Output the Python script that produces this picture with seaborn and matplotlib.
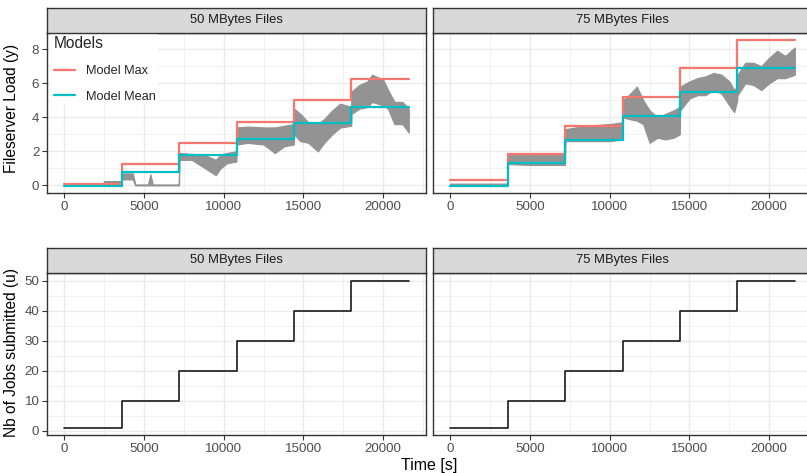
import matplotlib
matplotlib.use("Agg")
import matplotlib.pyplot as plt
import seaborn as sns
import pandas as pd

# ---- data ----
t_steps = [0, 3600, 7200, 10800, 14400, 18000, 21600]
max50 = [0.08, 1.23, 2.48, 3.73, 5.03, 6.26, 6.26]
mean50 = [-0.06, 0.80, 1.76, 2.73, 3.69, 4.62, 4.62]
max75 = [0.33, 1.83, 3.51, 5.19, 6.87, 8.53, 8.53]
mean75 = [-0.02, 1.29, 2.65, 4.10, 5.50, 6.91, 6.91]
jobs = [1, 10, 20, 30, 40, 50, 50]

# measured load, as lower / upper envelope of the noisy trace
load50_t = [0, 2400, 2500, 3590, 3610, 4300, 4450, 5250, 5400, 5550, 7190,
            7210, 8000, 8500, 9000, 9500, 9800, 10200, 10790,
            10810, 11500, 12500, 13200, 13800, 14390,
            14410, 14800, 15300, 15900, 16300, 16800, 17300, 17990,
            18010, 18500, 19000, 19300, 20000, 20300, 20700, 21200, 21600]
lo50 = [0, 0, 0.1, 0.1, 0.35, 0.35, 0, 0, 0, 0, 0,
        1.5, 1.5, 1.2, 0.9, 0.6, 1.0, 1.3, 1.4,
        2.4, 2.5, 2.4, 1.9, 2.3, 2.4,
        3.0, 2.6, 2.5, 2.0, 2.5, 3.0, 3.4, 3.5,
        4.2, 4.5, 4.6, 4.9, 4.7, 4.5, 3.6, 3.6, 3.1]
hi50 = [0.03, 0.03, 0.25, 0.25, 0.7, 0.7, 0.05, 0.05, 0.65, 0.05, 0.05,
        1.9, 1.85, 1.8, 1.7, 1.5, 1.8, 1.9, 2.0,
        3.4, 3.45, 3.4, 3.4, 3.5, 3.6,
        4.5, 4.2, 3.7, 3.6, 3.9, 4.4, 4.8, 4.6,
        5.5, 5.9, 6.1, 6.5, 6.2, 5.6, 4.9, 4.9, 4.5]

load75_t = [0, 3590, 3610, 5000, 7190,
            7210, 8500, 10000, 10790,
            10810, 11200, 11700, 12100, 12500, 13000, 13500, 14000, 14390,
            14410, 15000, 15500, 16000, 16500, 17000, 17500, 17800, 17990,
            18010, 18500, 19000, 19500, 20000, 20500, 21000, 21600]
lo75 = [0, 0, 1.25, 1.2, 1.2,
        2.6, 2.6, 2.6, 2.7,
        4.0, 3.9, 3.8, 3.6, 2.5, 2.8, 2.7, 2.8, 3.0,
        4.4, 5.1, 5.3, 5.3, 5.6, 5.4, 4.7, 4.3, 5.0,
        5.3, 6.0, 5.9, 5.6, 6.0, 6.3, 6.3, 6.5]
hi75 = [0.1, 0.1, 1.8, 1.8, 1.85,
        3.3, 3.5, 3.6, 3.7,
        5.0, 5.3, 5.8, 5.0, 4.4, 4.0, 4.2, 4.4, 4.6,
        5.8, 6.1, 6.3, 6.4, 6.6, 6.5, 6.1, 5.6, 5.8,
        6.5, 7.2, 7.2, 7.0, 7.5, 7.9, 7.6, 8.1]

facets = ["50 MBytes Files", "75 MBytes Files"]

# ---- style ----
sns.set_theme(style="white")
plt.rcParams["font.family"] = ["Liberation Sans", "DejaVu Sans"]

RED = "#F8766D"
CYAN = "#00BFC4"
GREY_BAND = "#939393"
GRID = "#EBEBEB"
BORDER = "#333333"

W, H = 807, 473
fig = plt.figure(figsize=(W / 100, H / 100), dpi=100)


def box(x0, y0, x1, y1):
    # pixel box (top-left origin) -> figure fraction
    return [x0 / W, (H - y1) / H, (x1 - x0) / W, (y1 - y0) / H]


def style_panel(ax, yticks, yminor, ylim, first_col):
    ax.set_xlim(-1080, 22680)
    ax.set_ylim(*ylim)
    ax.set_xticks([0, 5000, 10000, 15000, 20000])
    ax.set_xticks([2500, 7500, 12500, 17500, 22500], minor=True)
    ax.set_yticks(yticks)
    ax.set_yticks(yminor, minor=True)
    ax.grid(True, which="major", color=GRID, linewidth=1.0)
    ax.grid(True, which="minor", color=GRID, linewidth=0.5)
    ax.set_axisbelow(True)
    for s in ax.spines.values():
        s.set_color(BORDER)
        s.set_linewidth(1.0)
    ax.tick_params(which="major", direction="out", length=3.5, width=0.8,
                   color=BORDER, labelsize=9.6, labelcolor="#4D4D4D", pad=2,
                   bottom=True, left=first_col, labelleft=first_col)
    ax.tick_params(which="minor", length=0)
    ax.set_xlabel("")
    ax.set_ylabel("")


def strip(rect, label):
    sax = fig.add_axes(rect)
    sax.set_facecolor("#D9D9D9")
    sax.set_xticks([])
    sax.set_yticks([])
    for s in sax.spines.values():
        s.set_color(BORDER)
        s.set_linewidth(1.0)
    sax.text(0.5, 0.5, label, ha="center", va="center", fontsize=9.4,
             color="#1A1A1A", transform=sax.transAxes)


panels_x = [(47, 426), (433, 812)]

# ---- top row: fileserver load ----
loads = [(load50_t, lo50, hi50, max50, mean50),
         (load75_t, lo75, hi75, max75, mean75)]
top_axes = []
for i, (x0, x1) in enumerate(panels_x):
    ax = fig.add_axes(box(x0, 33, x1, 193))
    lt, lo, hi, mx, mn = loads[i]
    ax.fill_between(lt, lo, hi, color=GREY_BAND, edgecolor=GREY_BAND,
                    linewidth=0.9, zorder=2)
    df = pd.DataFrame({"t": t_steps, "max": mx, "mean": mn})
    sns.lineplot(data=df, x="t", y="max", ax=ax, color=RED, linewidth=1.6,
                 drawstyle="steps-post", label="Model Max", zorder=3)
    sns.lineplot(data=df, x="t", y="mean", ax=ax, color=CYAN, linewidth=1.6,
                 drawstyle="steps-post", label="Model Mean", zorder=4)
    style_panel(ax, [0, 2, 4, 6, 8], [1, 3, 5, 7], (-0.45, 8.95), i == 0)
    strip(box(x0, 8, x1, 33), facets[i])
    top_axes.append(ax)

leg = top_axes[0].legend(title="Models", loc="upper left",
                         bbox_to_anchor=(-0.006, 1.035), frameon=True,
                         facecolor="white", edgecolor="none", framealpha=1,
                         fontsize=9.2, title_fontsize=11.2, handlelength=1.7,
                         labelspacing=1.08, borderpad=0.2, handletextpad=0.8,
                         alignment="left", fancybox=False)
leg.get_frame().set_linewidth(0)
for lh in leg.get_lines():
    lh.set_linewidth(1.6)
top_axes[1].get_legend().remove()

# ---- bottom row: jobs submitted ----
for i, (x0, x1) in enumerate(panels_x):
    ax = fig.add_axes(box(x0, 273, x1, 435))
    dj = pd.DataFrame({"t": t_steps, "jobs": jobs})
    sns.lineplot(data=dj, x="t", y="jobs", ax=ax, color="#1A1A1A",
                 linewidth=1.2, drawstyle="steps-post")
    style_panel(ax, [0, 10, 20, 30, 40, 50], [5, 15, 25, 35, 45],
                (-1.4, 52.6), i == 0)
    strip(box(x0, 248, x1, 273), facets[i])

# ---- axis titles ----
fig.text(12 / W, 1 - 108 / H, "Fileserver Load (y)", rotation=90,
         ha="center", va="center", fontsize=11.2, color="black")
fig.text(12 / W, 1 - 352 / H, "Nb of Jobs submitted (u)", rotation=90,
         ha="center", va="center", fontsize=11.2, color="black")
fig.text(429 / W, 1 - 465 / H, "Time [s]", ha="center", va="center",
         fontsize=11.5, color="black")

fig.savefig("out.png", dpi=100)
